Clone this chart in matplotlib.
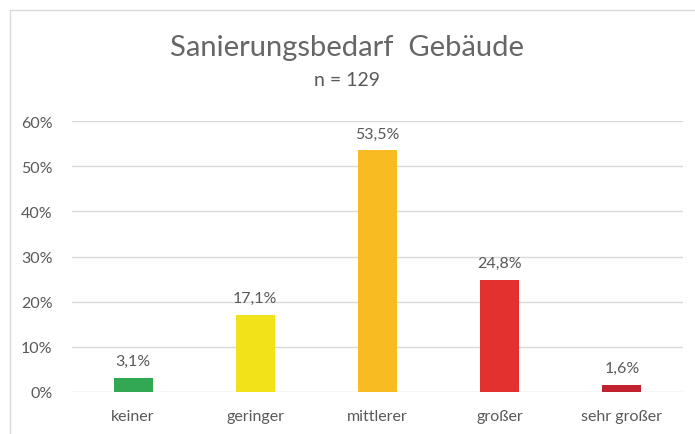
import matplotlib.pyplot as plt
from matplotlib.patches import Rectangle
from matplotlib.ticker import FuncFormatter

categories = ['keiner', 'geringer', 'mittlerer', 'großer', 'sehr großer']
values = [3.1, 17.1, 53.5, 24.8, 1.6]
labels = ['3,1%', '17,1%', '53,5%', '24,8%', '1,6%']
colors = ['#33a852', '#f2e21a', '#f8bb22', '#e3312f', '#c0222e']

plt.rcParams['font.family'] = ['Lato', 'DejaVu Sans']
grey = '#595959'

fig = plt.figure(figsize=(6.95, 4.35), dpi=100)
ax = fig.add_axes([72 / 695, (435 - 393) / 435, (683 - 72) / 695, (393 - 122) / 435])

# Rahmen um das Diagramm
fig.patches.append(Rectangle((10 / 695, -0.01), 1.0, 1 - 11 / 435 + 0.01,
                             transform=fig.transFigure, fill=False,
                             edgecolor='#d9d9d9', linewidth=1))

x = range(len(categories))
bars = ax.bar(x, values, width=0.32, color=colors, zorder=3)

for bar, lab in zip(bars, labels):
    ax.text(bar.get_x() + bar.get_width() / 2, bar.get_height() + 2.2, lab,
            ha='center', va='bottom', fontsize=11.5, color=grey)

ax.set_ylim(0, 60)
ax.set_xlim(-0.5, len(categories) - 0.5)
ax.set_yticks(range(0, 61, 10))
ax.yaxis.set_major_formatter(FuncFormatter(lambda v, p: f'{int(v)}%'))
ax.set_xticks(list(x))
ax.set_xticklabels(categories)
ax.grid(axis='y', color='#d9d9d9', linewidth=1, zorder=0)
for s in ax.spines.values():
    s.set_visible(False)
ax.tick_params(length=0, colors=grey, labelsize=11.5)
ax.tick_params(axis='x', pad=12)
ax.tick_params(axis='y', pad=14)

fig.text(0.5, 1 - 48 / 435, 'Sanierungsbedarf  Gebäude', ha='center', va='center',
         fontsize=21, color='#666666')
fig.text(0.5, 1 - 80 / 435, 'n = 129', ha='center', va='center',
         fontsize=14, color=grey)

fig.savefig('out.png', dpi=100)
